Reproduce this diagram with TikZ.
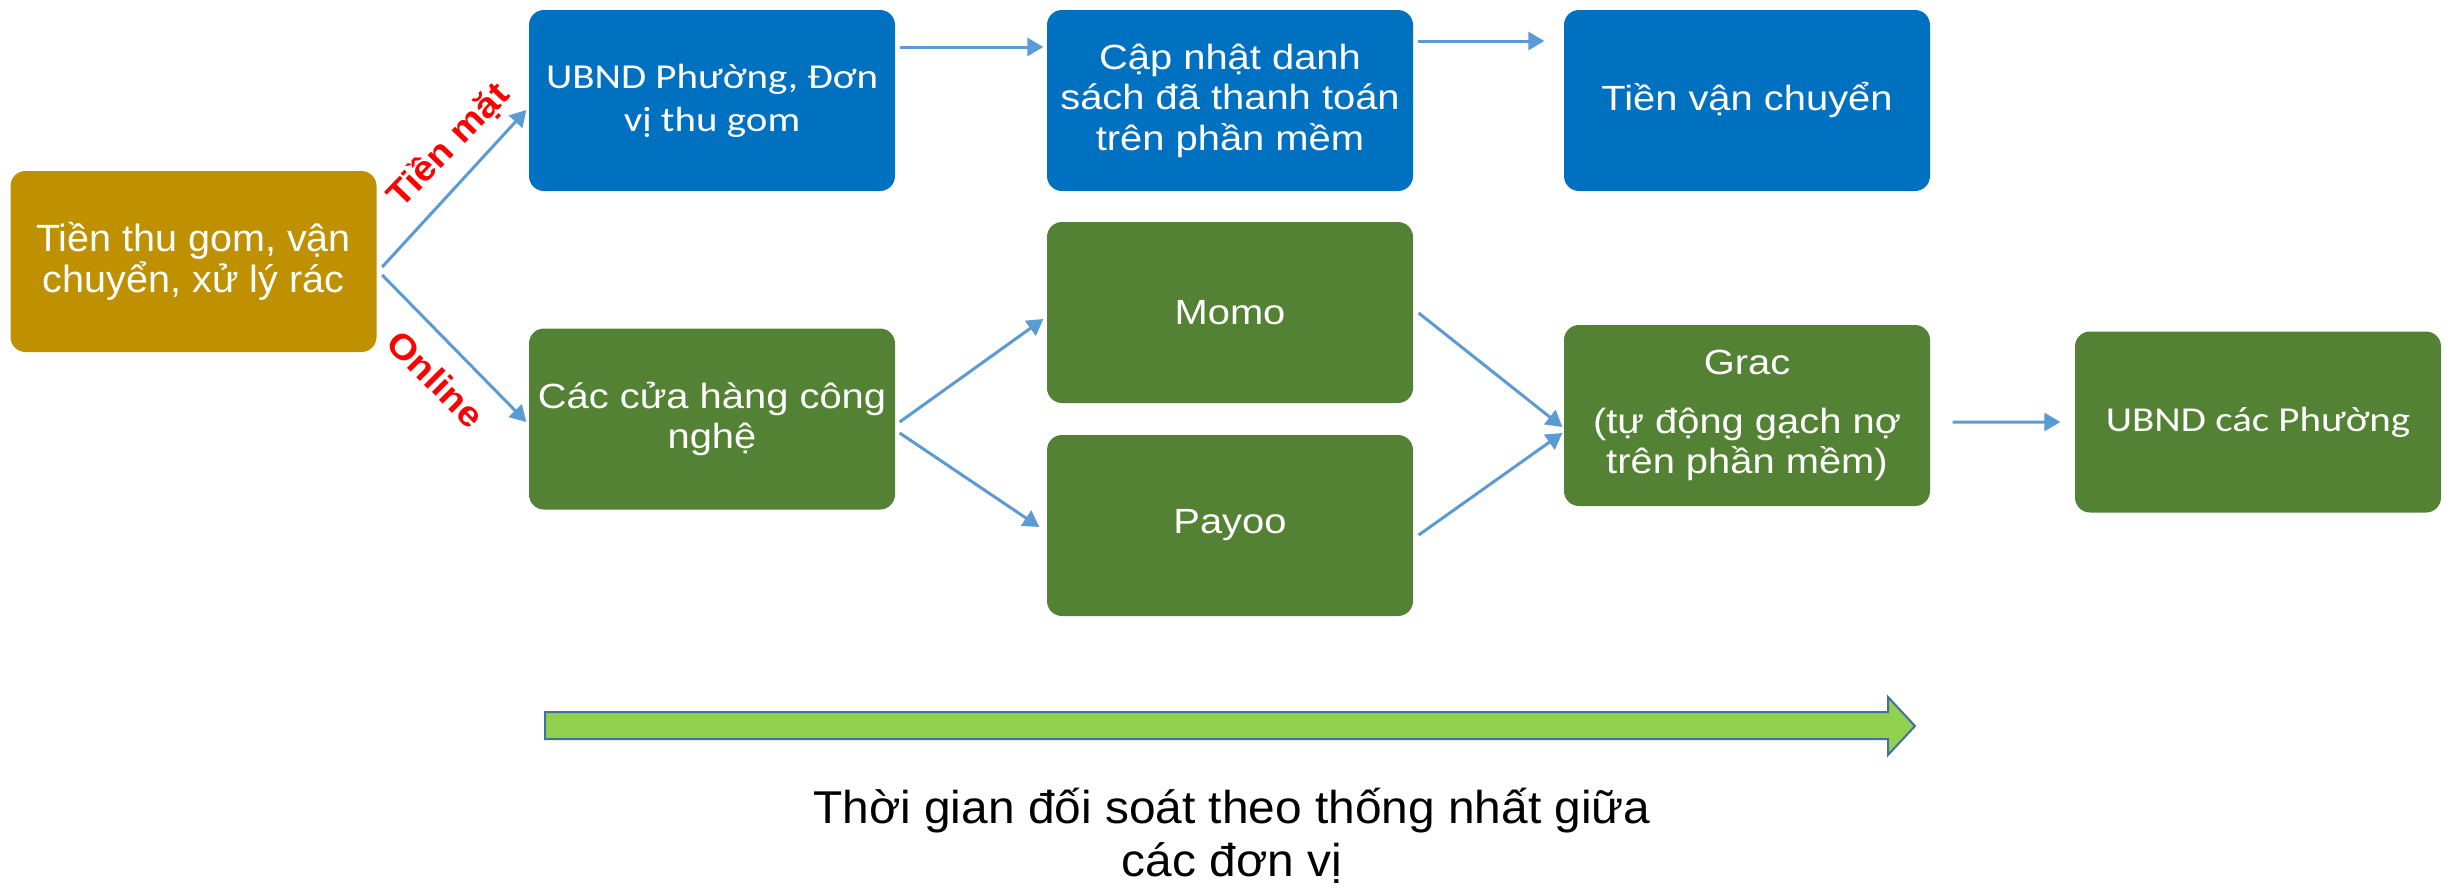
\documentclass[tikz,border=0pt]{standalone}
\usepackage{fontspec}
\usepackage{tikz}
\usetikzlibrary{arrows.meta}
\setmainfont{Liberation Sans}
\newfontfamily\arialWide{Liberation Sans}[FakeStretch=1.14]
\newfontfamily\arialSoft{Liberation Sans}[FakeStretch=1.04]
\newfontfamily\labelFont{Liberation Sans}[FakeStretch=1.1]
\newfontfamily\calibriWide{Carlito}[FakeStretch=1.17]
\definecolor{boxBlue}{RGB}{0,112,192}
\definecolor{boxGreen}{RGB}{84,130,53}
\definecolor{boxGold}{RGB}{191,144,0}
\definecolor{lineBlue}{RGB}{91,155,213}
\definecolor{barGreen}{RGB}{146,208,80}
\definecolor{barEdge}{RGB}{65,113,156}
\tikzstyle{flowStyle} = [rectangle, rounded corners = 4.5pt, minimum width = 109.8pt, minimum height = 54.3pt, inner sep = 0pt, text = white, align = center]
\tikzstyle{arialText} = [font=\arialWide\fontsize{10.5}{12.15}\selectfont]
\tikzstyle{calibriText} = [font=\calibriWide\fontsize{10.5}{12.9}\selectfont]
\tikzstyle{sourceText} = [font=\arialSoft\fontsize{11.4}{12.3}\selectfont]
\tikzstyle{flowLine} = [color=lineBlue, line width = .9pt, -{Triangle[length=4.8pt, width=5.4pt]}]
\tikzstyle{arrowLabel} = [text=red, inner sep = 0pt, font=\labelFont\bfseries\fontsize{10.5}{12}\selectfont]
\tikzstyle{timeArrow} = [fill=barGreen, draw=barEdge, line width = .6pt]
\tikzstyle{noteText} = [align=center, inner sep = 0pt, font=\arialSoft\fontsize{13.8}{15.8}\selectfont]
\newcommand{\flowBox}[5]{\node [flowStyle, fill=#1, #2] (#3) at (#4) {#5};}
\newcommand{\flowArrow}[4]{\draw [flowLine] ([shift={(#2)}]#1.east) -- ([shift={(#4)}]#3.west);}

\begin{document}
\begin{tikzpicture}[x = 0.3pt, y = -0.3pt]
  \useasboundingbox (0,0) rectangle (2453,887);
  \flowBox{boxGold}{sourceText}{source}{193.5,261.5}{Tiền thu gom, vận\\chuyển, xử lý rác}
  \flowBox{boxBlue}{calibriText}{cashUnit}{712,100.5}{UBND Phường, Đơn\\vị thu gom}
  \flowBox{boxBlue}{arialText}{listUpdate}{1230,100.5}{Cập nhật danh\\sách đã thanh toán\\trên phần mềm}
  \flowBox{boxBlue}{arialText}{transportFee}{1747,100.5}{Tiền vận chuyển}
  \flowBox{boxGreen}{arialText}{techStores}{712,419}{Các cửa hàng công\\nghệ}
  \flowBox{boxGreen}{arialText}{momo}{1230,312.5}{Momo}
  \flowBox{boxGreen}{arialText}{payoo}{1230,525.5}{Payoo}
  \flowBox{boxGreen}{arialText}{grac}{1747,415.5}{Grac\\[5.4pt](tự động gạch nợ\\trên phần mềm)}
  \flowBox{boxGreen}{calibriText}{wardUnit}{2258,422}{UBND các Phường}

  \flowArrow{source}{5,5.5}{cashUnit}{-2,9.5}
  \flowArrow{source}{5,13.5}{techStores}{-2,3}
  \flowArrow{cashUnit}{4,-53.5}{listUpdate}{-3,-53.5}
  \flowArrow{listUpdate}{4,-59.5}{transportFee}{-19,-59.5}
  \flowArrow{techStores}{4,3}{momo}{-3,6.5}
  \flowArrow{techStores}{4,14}{payoo}{-7,1.5}
  \flowArrow{momo}{5,0.5}{grac}{-1,11.5}
  \flowArrow{payoo}{5,9.5}{grac}{-1,17.5}
  \flowArrow{grac}{22,6.5}{wardUnit}{-14,0}

  \node [arrowLabel, rotate = 46] (cashLabel) at (449,146) {Tiền mặt};
  \node [arrowLabel, rotate = -45] (onlineLabel) at (436,379) {Online};

  % time bar
  \draw [timeArrow] (545,712) -- (1888,712) -- (1888,697) -- (1915,726) -- (1888,755) -- (1888,739) -- (545,739) -- cycle;
  \node [noteText] (timeNote) at (1232,836) {Thời gian đối soát theo thống nhất giữa\\các đơn vị};
\end{tikzpicture}
\end{document}
